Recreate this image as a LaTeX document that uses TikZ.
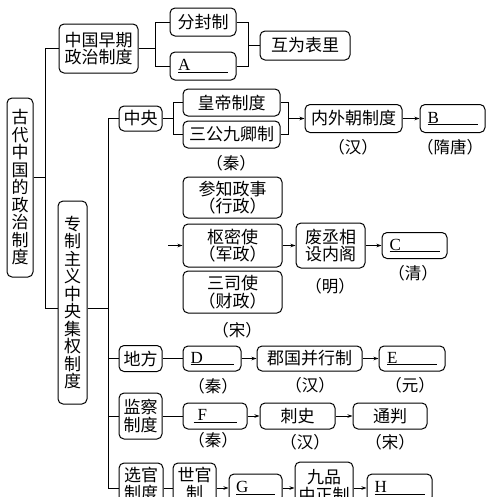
\documentclass[tikz,border=0pt]{standalone}
\usepackage{fontspec}
\setmainfont{Noto Sans CJK SC}
\newfontfamily\lat{Liberation Serif}
\usetikzlibrary{arrows.meta}
\newcommand\blank[2]{{\lat\fontsize{17}{17}\selectfont\underline{\makebox[#2][l]{#1}}}}
\begin{document}
\begin{tikzpicture}[x=1pt,y=-1pt,
  bx/.style={draw, rounded corners=5pt, line width=1pt, inner sep=0pt, align=center,
    font=\fontsize{17}{17.5}\selectfont},
  lab/.style={inner sep=0pt, font=\fontsize{16.5}{17}\selectfont},
  ln/.style={line width=1pt},
  arr/.style={line width=1pt, -{Stealth[length=5pt,width=3.5pt]}}]
\useasboundingbox (0,0) rectangle (500,496);
\clip (0,0) rectangle (500,496);
% ---- main nodes
\node[bx, minimum width=26, minimum height=179] (title) at (20,187.5) {古\\代\\中\\国\\的\\政\\治\\制\\度};
\node[bx, minimum width=79, minimum height=49] (early) at (98.5,48.5) {中国早期\\政治制度};
\node[bx, minimum width=66, minimum height=28] (fenfeng) at (203,22) {分封制};
\node[bx, minimum width=66, minimum height=28] (A) at (203,66) {\blank{A}{50pt}};
\node[bx, minimum width=90, minimum height=29] (huwei) at (305,45.5) {互为表里};
\node[bx, minimum width=29, minimum height=203] (zhuanzhi) at (72.5,302.5) {专\\制\\主\\义\\中\\央\\集\\权\\制\\度};
% central
\node[bx, minimum width=43, minimum height=25] (zhongyang) at (140.5,118.5) {中央};
\node[bx, minimum width=97, minimum height=27] (huangdi) at (231.5,102.5) {皇帝制度};
\node[bx, minimum width=97, minimum height=27] (sangong) at (231.5,134.5) {三公九卿制};
\node[lab] (qin1) at (231,163) {（秦）};
\node[bx, minimum width=97, minimum height=28] (neiwai) at (353.5,118.5) {内外朝制度};
\node[lab] (han1) at (353,147) {（汉）};
\node[bx, minimum width=65, minimum height=28] (B) at (452.5,118.5) {\blank{B}{50pt}};
\node[lab] (suitang) at (450,147) {（隋唐）};
\node[bx, minimum width=99, minimum height=41] (canzhi) at (232.5,197.5) {参知政事\\（行政）};
\node[bx, minimum width=99, minimum height=43] (shumi) at (232.5,245.5) {枢密使\\（军政）};
\node[bx, minimum width=99, minimum height=42] (sansi) at (232.5,292) {三司使\\（财政）};
\node[lab] (song1) at (237,330) {（宋）};
\node[bx, minimum width=69, minimum height=45] (feicheng) at (330.5,245.5) {废丞相\\设内阁};
\node[lab] (ming) at (330,286) {（明）};
\node[bx, minimum width=65, minimum height=26] (C) at (414.5,245.5) {\blank{C}{50pt}};
\node[lab] (qing) at (413,273) {（清）};
% local
\node[bx, minimum width=43, minimum height=26] (difang) at (140.5,358.5) {地方};
\node[bx, minimum width=58, minimum height=25] (D) at (212,358.5) {\blank{D}{43pt}};
\node[lab] (qin2) at (213,386) {（秦）};
\node[bx, minimum width=105, minimum height=25] (junguo) at (309.5,358.5) {郡国并行制};
\node[lab] (han2) at (310,385) {（汉）};
\node[bx, minimum width=66, minimum height=25] (E) at (412,358.5) {\blank{E}{50pt}};
\node[lab] (yuan) at (410,385) {（元）};
% supervision
\node[bx, minimum width=43, minimum height=46] (jiancha) at (140.5,416) {监察\\制度};
\node[bx, minimum width=64, minimum height=26] (F) at (215,416) {\blank{\hspace{4pt}F}{43pt}};
\node[lab] (qin3) at (213,440) {（秦）};
\node[bx, minimum width=75, minimum height=26] (cishi) at (297.5,416) {刺史};
\node[lab] (han3) at (305,442) {（汉）};
\node[bx, minimum width=74, minimum height=26] (tongpan) at (390,416) {通判};
\node[lab] (song2) at (390,442) {（宋）};
% selection
\node[bx, minimum width=44, minimum height=42] (xuanguan) at (141,484) {选官\\制度};
\node[bx, minimum width=43, minimum height=42] (shiguan) at (194.5,484) {世官\\制};
\node[bx, minimum width=53, minimum height=28] (G) at (255.5,488) {\blank{G}{39pt}};
\node[bx, minimum width=58, minimum height=48] (jiupin) at (324,486) {九品\\中正制};
\node[bx, minimum width=65, minimum height=28] (H) at (399.5,488) {\blank{H}{50pt}};
% ---- connectors
\coordinate (t1) at (45,177);
\coordinate (t2) at (45,308);
\draw[ln] (title.east |- t1) -- (t1);
\draw[ln] (early.west) -| (t2) -- (zhuanzhi.west |- t2);
\coordinate (tr) at (108,308);
\draw[ln] (zhuanzhi.east |- tr) -- (tr);
\draw[ln] (zhongyang.west) -| (tr |- G.west) -- (xuanguan.west |- G.west);
\draw[ln] (difang.west) -- (difang.west -| tr);
\draw[ln] (jiancha.west) -- (jiancha.west -| tr);
% early bracket
\coordinate (b1) at (155,0);
\coordinate (b2) at (248,0);
\draw[ln] (early.east) -- (early.east -| b1);
\draw[ln] (fenfeng.west) -| (b1 |- A.west) -- (A.west);
\draw[ln] (fenfeng.east) -| (b2 |- A.east) -- (A.east);
\draw[ln] (huwei.west) -- (huwei.west -| b2);
% central bracket
\coordinate (c1) at (173,0);
\coordinate (c2) at (288,0);
\draw[ln] (zhongyang.east) -- (zhongyang.east -| c1);
\draw[ln] (huangdi.west) -| (c1 |- sangong.west) -- (sangong.west);
\draw[ln] (huangdi.east) -| (c2 |- sangong.east) -- (sangong.east);
\draw[arr] (c2 |- neiwai.west) -- (neiwai.west);
\draw[arr] (neiwai.east) -- (B.west);
\coordinate (s0) at (168,245.5);
\draw[arr] (s0) -- (shumi.west);
\draw[arr] (shumi.east) -- (feicheng.west);
\draw[arr] (feicheng.east) -- (C.west);
% local
\draw[ln] (difang.east) -- (D.west);
\draw[arr] (D.east) -- (junguo.west);
\draw[arr] (junguo.east) -- (E.west);
% supervision
\draw[ln] (jiancha.east) -- (F.west);
\draw[arr] (F.east) -- (cishi.west);
\draw[arr] (cishi.east) -- (tongpan.west);
% selection
\draw[ln] (xuanguan.east |- G.west) -- (shiguan.west |- G.west);
\draw[arr] (shiguan.east |- G.west) -- (G.west);
\draw[arr] (G.east) -- (jiupin.west |- G.east);
\draw[arr] (jiupin.east |- H.west) -- (H.west);
\end{tikzpicture}
\end{document}
